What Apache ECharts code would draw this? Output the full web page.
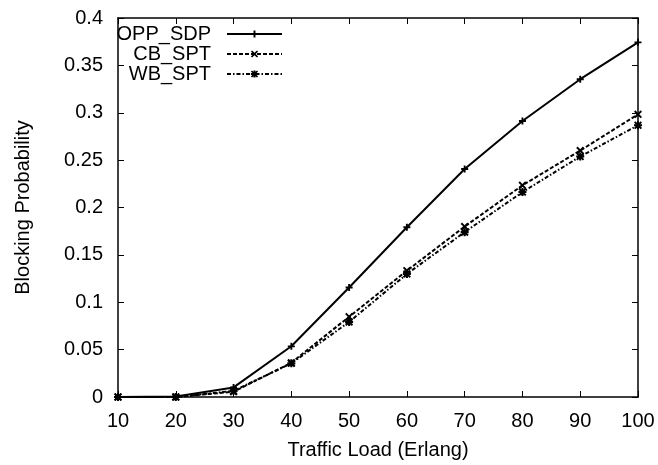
<!DOCTYPE html>
<html>
<head>
<meta charset="utf-8">
<script src="https://cdn.jsdelivr.net/npm/echarts@6/dist/echarts.min.js"></script>
<style>
  html, body { margin: 0; padding: 0; background: #fff; }
  #chart { width: 658px; height: 465px; }
</style>
</head>
<body>
<div id="chart"></div>
<script>
// Traffic load (Erlang) on the x axis
const trafficLoad = [10, 20, 30, 40, 50, 60, 70, 80, 90, 100];

// Blocking probability per scheme
const oppSdp = [0, 0.0005, 0.0101, 0.0535, 0.1156, 0.1792, 0.2406, 0.2913, 0.3354, 0.3743];
const cbSpt  = [0, 0, 0.0056, 0.0361, 0.0847, 0.1333, 0.1799, 0.2234, 0.2601, 0.2983];
const wbSpt  = [0, 0, 0.0065, 0.0355, 0.0792, 0.1299, 0.1740, 0.2163, 0.2538, 0.2868];

const seriesNames = ['OPP_SDP', 'CB_SPT', 'WB_SPT'];

const FONT = '"Liberation Sans", Arial, Helvetica, sans-serif';
const INK = '#000';

// gnuplot-like point glyphs
const PLUS = 'path://M2.2,0H3.8V2.2H6V3.8H3.8V6H2.2V3.8H0V2.2H2.2Z';
const CROSS = 'path://M0,1L1,0L3,2L5,0L6,1L4,3L6,5L5,6L3,4L1,6L0,5L2,3Z';
const STAR = 'path://M0,1L1,0L3,2L5,0L6,1L4,3L6,5L5,6L3,4L1,6L0,5L2,3Z M2.2,0H3.8V6H2.2Z M0,2.2H6V3.8H0Z';

function pairs(vals) {
  return trafficLoad.map((x, i) => [x, vals[i]]);
}

const frameAxis = {
  axisLine: { show: true, onZero: false, lineStyle: { color: INK, width: 1.5 } },
  axisTick: { show: true, inside: true, length: 6, lineStyle: { color: INK, width: 1 } },
  splitLine: { show: false }
};

const chart = echarts.init(document.getElementById('chart'), null, { renderer: 'canvas' });

chart.setOption({
  backgroundColor: '#fff',
  animation: false,
  textStyle: { fontFamily: FONT },
  grid: { left: 118, right: 20, top: 18, bottom: 63 },
  legend: {
    orient: 'vertical',
    align: 'right',
    right: 375,
    top: 24,
    padding: 0,
    itemGap: 0,
    itemWidth: 55,
    itemHeight: 9,
    data: seriesNames,
    textStyle: { fontFamily: FONT, fontSize: 20, color: INK, lineHeight: 20, padding: [0, 11, 0, 0] }
  },
  xAxis: [
    Object.assign({
      type: 'value', min: 10, max: 100, interval: 10,
      name: 'Traffic Load (Erlang)', nameLocation: 'middle', nameGap: 43,
      nameTextStyle: { fontFamily: FONT, fontSize: 20, color: INK },
      axisLabel: { fontFamily: FONT, fontSize: 20, color: INK, margin: 14 }
    }, frameAxis),
    Object.assign({
      type: 'value', min: 10, max: 100, interval: 10, position: 'top',
      axisLabel: { show: false }
    }, frameAxis)
  ],
  yAxis: [
    Object.assign({
      type: 'value', min: 0, max: 0.4, interval: 0.05,
      name: 'Blocking Probability', nameLocation: 'middle', nameGap: 85,
      nameTextStyle: { fontFamily: FONT, fontSize: 20, color: INK },
      axisLabel: { fontFamily: FONT, fontSize: 20, color: INK, margin: 15 }
    }, frameAxis),
    Object.assign({
      type: 'value', min: 0, max: 0.4, interval: 0.05, position: 'right',
      axisLabel: { show: false }
    }, frameAxis)
  ],
  series: [
    {
      name: seriesNames[0], type: 'line', data: pairs(oppSdp),
      symbol: PLUS, symbolSize: 7, z: 4,
      itemStyle: { color: INK },
      lineStyle: { color: INK, width: 2, type: 'solid' }
    },
    {
      name: seriesNames[1], type: 'line', data: pairs(cbSpt),
      symbol: CROSS, symbolSize: 8, z: 3,
      itemStyle: { color: INK },
      lineStyle: { color: INK, width: 2, type: [4, 2] }
    },
    {
      name: seriesNames[2], type: 'line', data: pairs(wbSpt),
      symbol: STAR, symbolSize: 8, z: 2,
      itemStyle: { color: INK },
      lineStyle: { color: INK, width: 2, type: [4, 2, 1.5, 2] }
    }
  ]
});
</script>
</body>
</html>
